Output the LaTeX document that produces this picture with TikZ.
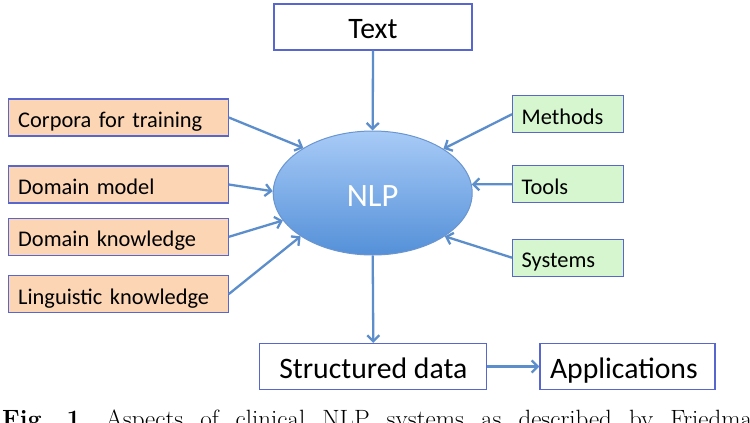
\documentclass[tikz,border=0pt]{standalone}
\usepackage{fontspec}
\newfontfamily\calibri{Carlito}
\usetikzlibrary{arrows.meta,shapes.geometric}
\definecolor{boxline}{RGB}{88,103,205}
\definecolor{peach}{RGB}{252,213,181}
\definecolor{mint}{RGB}{213,246,206}
\definecolor{arrowblue}{RGB}{92,142,203}
\definecolor{nlptop}{RGB}{168,203,247}
\definecolor{nlpbottom}{RGB}{84,144,216}
\definecolor{nlpline}{RGB}{106,150,208}
\tikzset{
  bigbox/.style={draw=boxline, line width=1.3bp, fill=white, minimum height=46bp,
    inner ysep=0pt, font=\calibri\fontsize{29.7bp}{34bp}\selectfont,
    text height=28bp, text depth=5bp},
  leftbox/.style={draw=boxline, line width=1.3bp, fill=peach, minimum height=37bp,
    text width=200bp, inner xsep=10bp, inner ysep=0pt, align=left,
    font=\calibri\fontsize{22.4bp}{26bp}\selectfont, text height=24bp, text depth=4bp},
  rightbox/.style={leftbox, fill=mint, text width=93bp, inner xsep=9bp},
  conn/.style={draw=arrowblue, line width=2.3bp, -{Straight Barb[length=6bp,width=12bp]}}
}
\begin{document}
\begin{tikzpicture}[x=1bp,y=-1bp]
\useasboundingbox (0,0) rectangle (750,422);
\clip (0,0) rectangle (750,422);
\fill[white] (0,0) rectangle (750,422);

% central ellipse
\node[ellipse, minimum width=199bp, minimum height=124bp, inner sep=0pt,
  draw=nlpline, line width=1bp, top color=nlptop, bottom color=nlpbottom,
  text=white, font=\calibri\fontsize{32.6bp}{36bp}\selectfont,
  text height=27bp, text depth=0bp] (nlp) at (372.7,193) {NLP};

% top and bottom boxes
\node[bigbox, minimum width=198bp] (text) at (373,27) {Text};
\node[bigbox, minimum width=227bp] (sd) at (373.3,366.5) {Structured data};
\node[bigbox, minimum width=175bp, text width=155bp, inner xsep=10bp, align=left] (app) at (627.5,366.5) {Applications};

% left boxes
\node[leftbox] (corp) at (118.2,117.5) {Corpora for training};
\node[leftbox] (dm) at (118.2,184.5) {Domain model};
\node[leftbox] (dk) at (118.2,236.8) {Domain knowledge};
\node[leftbox] (lk) at (118.2,294) {Linguistic knowledge};

% right boxes
\node[rightbox] (meth) at (568.2,114.2) {Methods};
\node[rightbox] (tools) at (568.2,184.3) {Tools};
\node[rightbox] (sys) at (568.2,257.7) {Systems};

% connectors
\draw[conn] (text.south) -- (nlp.north);
\draw[conn] (nlp.south) -- (sd.north);
\draw[conn] (sd.east) -- (app.west);
\draw[conn] (corp.east) -- (nlp.147.6);
\draw[conn] (dm.east) -- (nlp.179.5);
\draw[conn] (dk.east) -- (nlp.197.7);
\draw[conn] (lk.east) -- (nlp.211.8);
\draw[conn] (meth.west) -- (nlp.32.6);
\draw[conn] (tools.west) -- (nlp.5.2);
\draw[conn] (sys.west) -- (nlp.329.3);

% caption (cut off by the picture's lower and right edges)
\node[anchor=base west, inner sep=0pt, font=\fontsize{25bp}{29bp}\selectfont] (cap) at (2,427)
  {\spaceskip=17bp\relax\xspaceskip=17bp\relax\textbf{Fig. 1.} Aspects of clinical NLP systems as described by Friedman};
\end{tikzpicture}
\end{document}
